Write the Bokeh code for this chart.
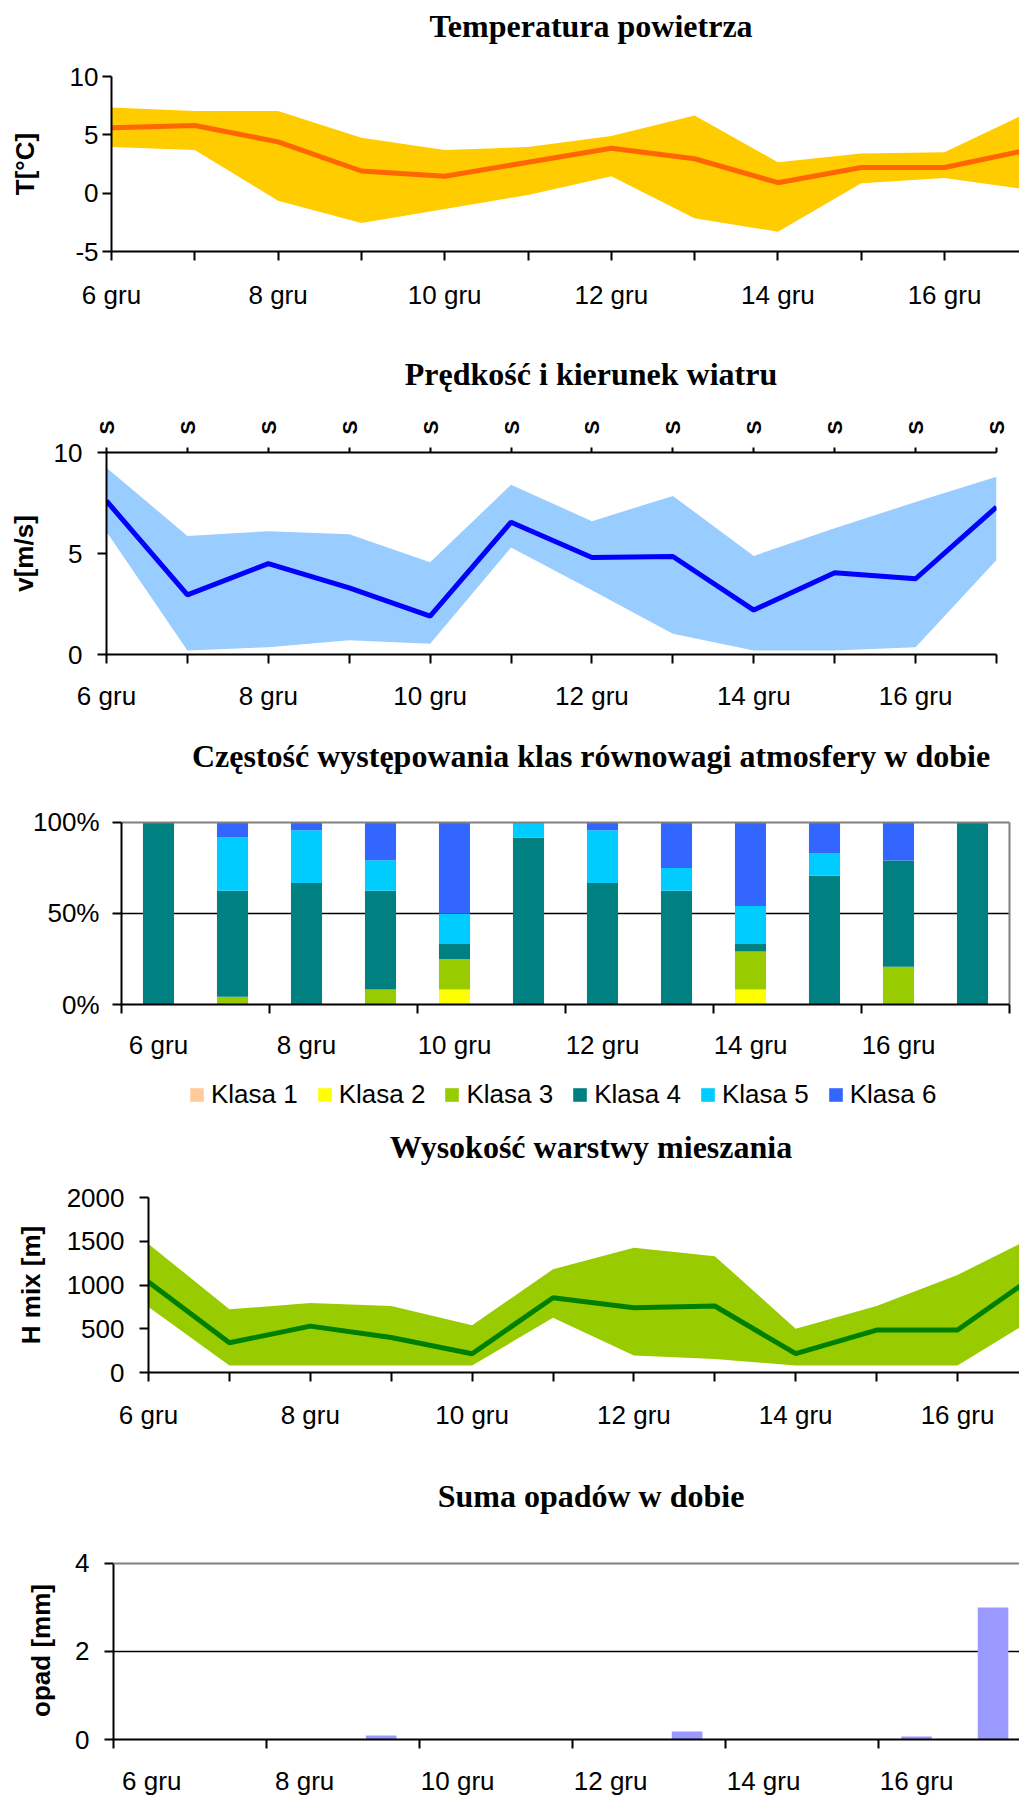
import math
from bokeh.plotting import figure
from bokeh.layouts import column
from bokeh.models import Range1d, FixedTicker, Label, Span, Legend, LegendItem, LinearAxis, ColumnDataSource
from bokeh.embed import file_html
from bokeh.resources import INLINE

# ---------------- data ----------------
days = [6, 7, 8, 9, 10, 11, 12, 13, 14, 15, 16, 17]
date_labels = ["6 gru", "7 gru", "8 gru", "9 gru", "10 gru", "11 gru",
               "12 gru", "13 gru", "14 gru", "15 gru", "16 gru", "17 gru"]

temp_mean = [5.6, 5.8, 4.4, 1.9, 1.45, 2.65, 3.85, 2.95, 0.9, 2.2, 2.2, 3.7]
temp_max = [7.35, 7.05, 7.05, 4.75, 3.7, 3.95, 4.9, 6.65, 2.65, 3.4, 3.5, 6.9]
temp_min = [3.95, 3.7, -0.65, -2.55, -1.35, -0.15, 1.45, -2.15, -3.3, 0.85, 1.3, 0.3]

wind_mean = [7.6, 2.95, 4.5, 3.3, 1.9, 6.55, 4.8, 4.85, 2.2, 4.05, 3.75, 7.3]
wind_max = [9.25, 5.87, 6.1, 5.95, 4.57, 8.4, 6.6, 7.85, 4.88, 6.25, 7.55, 8.8]
wind_min = [6.08, 0.2, 0.36, 0.7, 0.53, 5.3, 3.18, 1.03, 0.2, 0.2, 0.36, 4.68]
wind_dir = ["S", "S", "S", "S", "S", "S", "S", "S", "S", "S", "S", "S"]

class_names = ["Klasa 1", "Klasa 2", "Klasa 3", "Klasa 4", "Klasa 5", "Klasa 6"]
class_colors = ["#FFCC99", "#FFFF00", "#99CC00", "#008080", "#00CCFF", "#3366FF"]
klasa1 = [0, 0, 0, 0, 0, 0, 0, 0, 0, 0, 0, 0]
klasa2 = [0, 0, 0, 0, 8.3, 0, 0, 0, 8.3, 0, 0, 0]
klasa3 = [0, 4.2, 0, 8.3, 16.7, 0, 0, 0, 20.8, 0, 20.8, 0]
klasa4 = [100, 58.3, 66.7, 54.2, 8.3, 91.7, 66.7, 62.5, 4.2, 70.8, 58.3, 100]
klasa5 = [0, 29.2, 29.1, 16.7, 16.7, 8.3, 29.1, 12.5, 20.8, 12.5, 0, 0]
klasa6 = [0, 8.3, 4.2, 20.8, 50, 0, 4.2, 25, 45.9, 16.7, 20.9, 0]

hmix_mean = [1035, 340, 530, 400, 215, 855, 740, 760, 215, 485, 485, 1135]
hmix_max = [1470, 722, 795, 760, 540, 1180, 1425, 1330, 500, 760, 1115, 1575]
hmix_min = [750, 80, 80, 80, 80, 625, 195, 155, 80, 80, 80, 645]

opad = [0, 0, 0, 0.09, 0, 0, 0, 0.18, 0, 0, 0.07, 3.0]

titles = ["Temperatura powietrza", "Prędkość i kierunek wiatru",
          "Częstość występowania klas równowagi atmosfery w dobie",
          "Wysokość warstwy mieszania", "Suma opadów w dobie"]
y_titles = ["T[°C]", "v[m/s]", "H mix [m]", "opad [mm]"]

# ---------------- helpers ----------------
W = 1019
SANS = "Liberation Sans"
SERIF = "Liberation Serif"
TICK_FS = "26px"
TITLE_CX = 590.5


def style_axis(ax, standoff):
    ax.axis_line_color = "black"
    ax.axis_line_width = 2
    ax.major_tick_line_color = "black"
    ax.major_tick_line_width = 2
    ax.major_tick_in = 0
    ax.major_tick_out = 9
    ax.minor_tick_line_color = None
    ax.major_label_text_font = SANS
    ax.major_label_text_font_size = TICK_FS
    ax.major_label_text_color = "black"
    ax.major_label_standoff = standoff
    ax.axis_label_text_font = SANS
    ax.axis_label_text_font_style = "bold"
    ax.axis_label_text_font_size = "26px"
    ax.axis_label_text_color = "black"


def plain_fig(h, y0=0):
    f = figure(width=W, height=h, x_range=Range1d(0, W), y_range=Range1d(y0, y0 + h),
               x_axis_location=None, y_axis_location=None,
               output_backend="svg", toolbar_location=None,
               min_border=0, min_border_left=0, min_border_right=0,
               min_border_top=0, min_border_bottom=0)
    f.outline_line_color = None
    f.grid.visible = False
    f.background_fill_color = "white"
    f.border_fill_color = "white"
    return f


def title_fig(top, bottom, text, baseline):
    f = plain_fig(bottom - top)
    f.add_layout(Label(x=TITLE_CX, y=bottom - (baseline - 10.8), x_units="screen", y_units="screen",
                       text=text, text_font=SERIF, text_font_style="bold", text_font_size="32px",
                       text_align="center", text_baseline="middle", text_color="black"))
    return f


def panel(fig_top, fig_bottom, left, right, frame_top, frame_bottom, y_lo, y_hi, x_lo, x_hi,
          xstand, ystand):
    p = figure(width=W, height=fig_bottom - fig_top,
               x_range=Range1d(x_lo, x_hi), y_range=Range1d(y_lo, y_hi),
               output_backend="svg", toolbar_location=None,
               min_border_left=left, min_border_right=W - right,
               min_border_top=frame_top - fig_top, min_border_bottom=fig_bottom - frame_bottom)
    p.outline_line_color = None
    p.xgrid.visible = False
    p.ygrid.visible = False
    p.background_fill_color = "white"
    p.border_fill_color = "white"
    style_axis(p.xaxis[0], xstand)
    style_axis(p.yaxis[0], ystand)
    return p


day_overrides = {d: (lab if i % 2 == 0 else "") for i, (d, lab) in enumerate(zip(days, date_labels))}
n = len(days)
cat_x = [i + 0.5 for i in range(n)]
cat_bounds = list(range(0, n + 1, 2))
cat_label_x = [cat_x[i] for i in range(0, n, 2)]
cat_overrides = {cat_x[i]: date_labels[i] for i in range(0, n, 2)}


def category_axis(ax):
    ax.ticker = FixedTicker(ticks=cat_label_x, minor_ticks=cat_bounds)
    ax.major_label_overrides = cat_overrides
    ax.major_tick_line_color = None
    ax.minor_tick_line_color = "black"
    ax.minor_tick_line_width = 2
    ax.minor_tick_in = 0
    ax.minor_tick_out = 9


# ---------------- panel 1: temperature ----------------
t1f = title_fig(0, 60, titles[0], 36)
p1 = panel(60, 330, 111, W, 76, 251, -5, 10, 6, 6 + (W - 111) / 83.3, 19, 4)
p1.xaxis[0].ticker = FixedTicker(ticks=days)
p1.xaxis[0].major_label_overrides = day_overrides
t1 = [-5, 0, 5, 10]
p1.yaxis[0].ticker = FixedTicker(ticks=t1)
p1.yaxis[0].major_label_overrides = {t: str(t) for t in t1}
p1.yaxis[0].axis_label = y_titles[0]
p1.yaxis[0].axis_label_standoff = 27
p1.varea(x=days, y1=temp_min, y2=temp_max, fill_color="#FFCC00")
p1.line(x=days, y=temp_mean, line_color="#FF6600", line_width=5)

# ---------------- panel 2: wind ----------------
t2f = title_fig(330, 400, titles[1], 384.3)
p2 = panel(400, 715, 106, 996, 452, 654, 0, 10, days[0], days[-1], 17, 15)
p2.xaxis[0].ticker = FixedTicker(ticks=days)
p2.xaxis[0].major_label_overrides = day_overrides
p2.yaxis[0].ticker = FixedTicker(ticks=[0, 5, 10])
p2.yaxis[0].axis_label = y_titles[1]
p2.yaxis[0].axis_label_standoff = 12
top_ax = LinearAxis(ticker=FixedTicker(ticks=days),
                    major_label_overrides={d: s for d, s in zip(days, wind_dir)},
                    major_label_orientation=math.pi / 2)
style_axis(top_ax, 13)
top_ax.major_tick_out = 5
top_ax.major_label_text_font_style = "bold"
top_ax.major_label_text_font_size = "21px"
p2.add_layout(top_ax, "above")
p2.varea(x=days, y1=wind_min, y2=wind_max, fill_color="#99CCFF")
p2.line(x=days, y=wind_mean, line_color="#0000FF", line_width=5)

# ---------------- panel 3: stability classes ----------------
t3f = title_fig(715, 790, titles[2], 766.7)
per3 = (1005 - 822) / 100.0
p3 = panel(790, 1062, 121, 1011, 820, 1005, 0, 100 + 2 / per3, 0, n + 2 / 74.0, 16, 13)
category_axis(p3.xaxis[0])
p3.xaxis[0].bounds = (0, n)
p3.yaxis[0].bounds = (0, 100)
p3.yaxis[0].ticker = FixedTicker(ticks=[0, 50, 100])
p3.yaxis[0].major_label_overrides = {0: "0%", 50: "50%", 100: "100%"}
p3.segment(x0=[0], y0=[50], x1=[n], y1=[50], line_color="black", line_width=1.5)
src3 = ColumnDataSource(dict(x=cat_x, **{nm: v for nm, v in zip(
    class_names, [klasa1, klasa2, klasa3, klasa4, klasa5, klasa6])}))
p3.vbar_stack(class_names, x="x", width=0.42, fill_color=class_colors,
              line_color=None, source=src3)
p3.segment(x0=[0, n], y0=[100, 0], x1=[n, n], y1=[100, 100], line_color="#808080", line_width=2)

# legend strip (same stacked series; its y window lies above the bars so only the legend shows)
lgf = plain_fig(1120 - 1062, y0=1000)
legend_rs = lgf.vbar_stack(class_names, x="x", width=0.42, fill_color=class_colors,
                           line_color=None, source=src3)
legend = Legend(items=[LegendItem(label=nm, renderers=[r]) for nm, r in zip(class_names, legend_rs)],
                location=(188, 10), orientation="horizontal", padding=0, margin=0,
                spacing=18, glyph_width=17, glyph_height=17, label_standoff=6,
                label_text_font=SANS, label_text_font_size=TICK_FS, label_text_color="black",
                border_line_color=None, background_fill_alpha=0)
lgf.add_layout(legend)

# ---------------- panel 4: mixing height ----------------
t4f = title_fig(1120, 1175, titles[3], 1157.3)
p4 = panel(1175, 1450, 148, W, 1197, 1372, 0, 2000, 6, 6 + (W - 148) / 80.9, 18, 15)
p4.xaxis[0].ticker = FixedTicker(ticks=days)
p4.xaxis[0].major_label_overrides = day_overrides
p4.yaxis[0].ticker = FixedTicker(ticks=[0, 500, 1000, 1500, 2000])
p4.yaxis[0].axis_label = y_titles[2]
p4.yaxis[0].axis_label_standoff = 18
p4.varea(x=days, y1=hmix_min, y2=hmix_max, fill_color="#99CC00")
p4.line(x=days, y=hmix_mean, line_color="#008000", line_width=5)

# ---------------- panel 5: precipitation ----------------
t5f = title_fig(1450, 1530, titles[4], 1506.7)
per5 = (1741 - 1563) / 4.0
p5 = panel(1530, 1798, 113, W, 1561, 1741, 0, 4 + 2 / per5, 0, (W - 113) / 76.48, 17, 15)
category_axis(p5.xaxis[0])
p5.yaxis[0].bounds = (0, 4)
p5.yaxis[0].ticker = FixedTicker(ticks=[0, 2, 4])
p5.yaxis[0].axis_label = y_titles[3]
p5.yaxis[0].axis_label_standoff = 16
p5.ygrid.visible = True
p5.ygrid.ticker = FixedTicker(ticks=[2])
p5.ygrid.grid_line_color = "black"
p5.ygrid.grid_line_width = 1.5
p5.add_layout(Span(location=4, dimension="width", line_color="#808080", line_width=2))
p5.vbar(x=cat_x, top=opad, width=0.4, fill_color="#9999FF", line_color=None)

parts = [t1f, p1, t2f, p2, t3f, p3, lgf, t4f, p4, t5f, p5]
layout = column(*[column(f) for f in parts])
open("out.html", "w").write(file_html(layout, INLINE))
